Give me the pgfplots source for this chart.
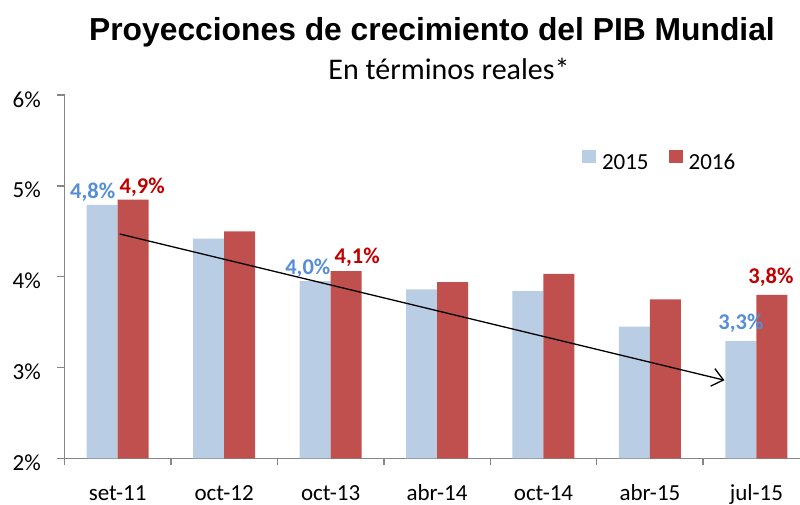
\documentclass[border=0pt]{standalone}
\usepackage{pgfplots}
\pgfplotsset{compat=1.18}
\usepackage{fontspec}
\setmainfont{Carlito}
\newfontfamily\titlefont{Liberation Sans}
\usetikzlibrary{arrows.meta}
\definecolor{c15}{HTML}{B9CDE5}
\definecolor{c16}{HTML}{C0504D}
\definecolor{lb}{HTML}{558ED5}
\definecolor{lr}{HTML}{C00000}
\definecolor{axc}{HTML}{868686}
\begin{document}
\begin{tikzpicture}[font=\fontsize{23}{27}\selectfont]
\useasboundingbox (0,0) rectangle (800pt,505pt);
\node[font=\titlefont\bfseries\fontsize{31.8}{36}\selectfont, anchor=base, inner sep=0pt] at (432pt,464pt) {Proyecciones de crecimiento del PIB Mundial};
\node[font=\fontsize{30}{34}\selectfont, anchor=base, inner sep=0pt] at (449pt,425pt) {En términos reales*};
\begin{axis}[
  at={(64.5pt,46.7pt)}, anchor=south west,
  scale only axis, width=735.5pt, height=363.2pt,
  xmin=-0.5, xmax=6.41, ymin=2, ymax=6,
  ybar=0pt, bar width=31pt,
  axis lines=left, axis line style={-, draw=axc, line width=1.5pt},
  tick align=outside, major tick length=7pt,
  tick style={draw=axc, line width=1.5pt},
  ytick={2,3,4,5,6}, yticklabels={2\%,3\%,4\%,5\%,6\%},
  yticklabel style={anchor=base east, inner sep=0pt, xshift=-16.5pt, yshift=-12pt},
  xtick={-0.5,0.5,1.5,2.5,3.5,4.5,5.5}, xticklabel=\empty,
  extra x ticks={0,1,2,3,4,5,6},
  extra x tick labels={set-11,oct-12,oct-13,abr-14,oct-14,abr-15,jul-15},
  extra x tick style={major tick length=0pt, xticklabel style={anchor=base, inner sep=0pt, yshift=-42pt}},
  legend columns=2,
  legend style={at={(0.7036,0.8488)}, anchor=north west, draw=none, fill=none, inner sep=0pt, outer sep=0pt,
    nodes={inner sep=0pt, anchor=base west},
    /tikz/every odd column/.style={column sep=6pt},
    /tikz/every even column/.style={column sep=20pt}},
  legend image code/.code={\fill[#1] (0pt,6pt) rectangle (14pt,19pt);},
  clip=false,
]
\addplot[fill=c15, draw=none] coordinates {(0,4.79) (1,4.42) (2,3.95) (3,3.86) (4,3.84) (5,3.45) (6,3.29)};
\addlegendentry{2015}
\addplot[fill=c16, draw=none] coordinates {(0,4.85) (1,4.50) (2,4.06) (3,3.94) (4,4.03) (5,3.75) (6,3.80)};
\addlegendentry{2016}
\draw[-{Straight Barb[length=11pt,width=18pt]}, line width=1.3pt, black] (axis cs:0.02,4.47) -- (axis cs:5.70,2.86);
\begin{scope}[every node/.style={font=\bfseries\fontsize{22.5}{26}\selectfont, anchor=base, inner sep=0pt}]
\node[text=lb] at (axis cs:-0.235,4.863) {4,8\%};
\node[text=lr] at (axis cs:0.23,4.918) {4,9\%};
\node[text=lb] at (axis cs:1.786,4.026) {4,0\%};
\node[text=lr] at (axis cs:2.25,4.14) {4,1\%};
\node[text=lb] at (axis cs:5.855,3.42) {3,3\%};
\node[text=lr] at (axis cs:6.137,3.927) {3,8\%};
\end{scope}
\end{axis}
\end{tikzpicture}
\end{document}
